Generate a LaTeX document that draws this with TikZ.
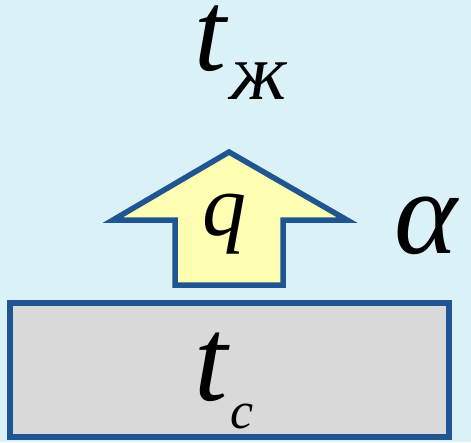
\documentclass[tikz,border=0pt]{standalone}
\usepackage{fontspec}
\setmainfont{Liberation Serif}
\newfontfamily\slantfont[FakeSlant=0.15]{Liberation Serif}
\definecolor{bgblue}{HTML}{DAF1F8}
\definecolor{edgeblue}{HTML}{1F5590}
\definecolor{arrowfill}{HTML}{FFFFB3}
\definecolor{slabgray}{HTML}{D9D9D9}
\tikzset{
  edge/.style={draw=edgeblue, line width=5.5pt, line join=miter},
  bigit/.style={inner sep=0pt, anchor=base west, text height=66pt, text depth=2pt, font=\fontsize{115}{115}\selectfont\itshape},
  label/.style={inner sep=0pt, anchor=base west},
}
\begin{document}
\begin{tikzpicture}[x=1pt,y=-1pt]
\fill[bgblue] (0,0) rectangle (471,442);
\useasboundingbox (0,0) rectangle (471,442);
% heat flow arrow
\path[edge, fill=arrowfill] (229,152) -- (347,220) -- (283,220) -- (283,285) -- (175,285) -- (175,220) -- (113,220) -- cycle;
% wall slab
\node[edge, line width=6.5pt, fill=slabgray, minimum width=439pt, minimum height=134pt, inner sep=0pt, outer sep=0pt, anchor=north west] (slab) at (10,303) {};
% labels
\node[bigit] (tw) at (194,70) {t};
\node[label, font=\fontsize{80}{80}\selectfont\slantfont] (zh) at (228,99) {ж};
\node[label, font=\fontsize{88}{88}\selectfont\itshape] (q) at (202,235) {q};
\node[label, font=\fontsize{120}{120}\selectfont\itshape] (alpha) at (394,253) {α};
\node[bigit, font=\fontsize{120}{120}\selectfont\itshape] (ts) at (194,400) {t};
\node[label, font=\fontsize{52}{52}\selectfont\itshape] (c) at (230,428) {c};
\end{tikzpicture}
\end{document}
